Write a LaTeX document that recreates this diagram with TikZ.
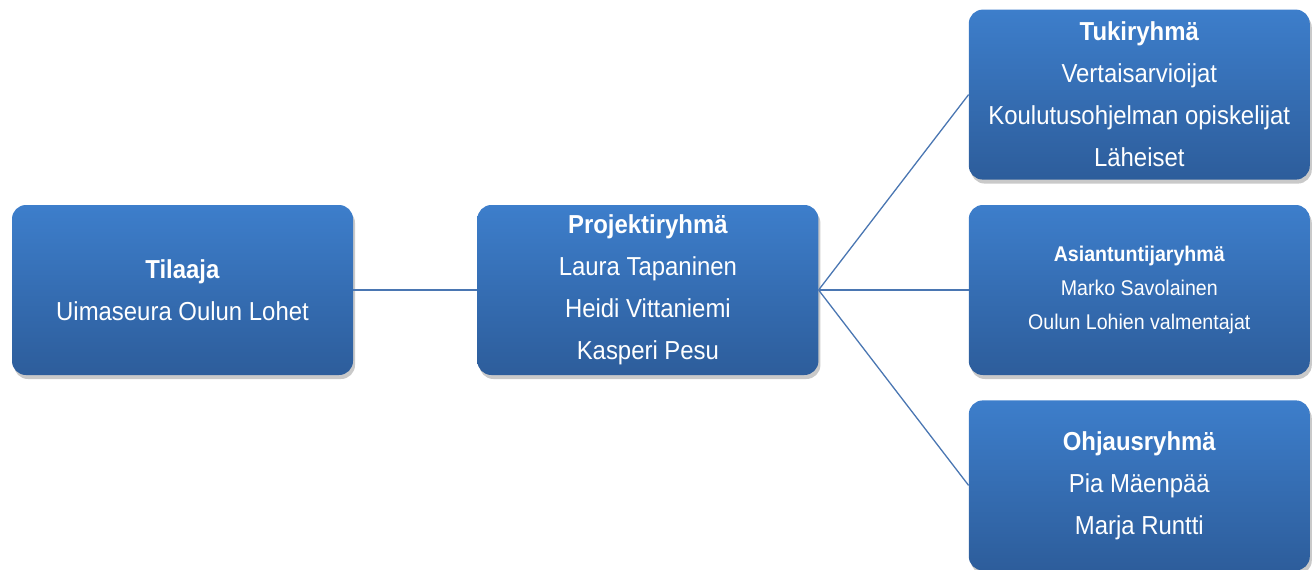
\documentclass[tikz,border=0pt]{standalone}
\usepackage{fontspec}
\setmainfont[FakeStretch=0.92]{Liberation Sans}
\usepackage{tikz}
\usetikzlibrary{positioning,shadows}
\definecolor{grptop}{RGB}{61,126,203}
\definecolor{grpbot}{RGB}{45,93,155}
\definecolor{grpline}{RGB}{74,118,178}
\tikzset{
	org chart/.style={
		x=1pt, y=1pt,
		node distance=25pt and 124pt,
		link/.style={draw=grpline, line width=1.3pt}
		},
	grp/.style={
		rounded corners=14pt, inner sep=0pt,
		minimum width=341pt, minimum height=170pt,
		top color=grptop, bottom color=grpbot,
		text=white, align=center,
		font=\fontsize{26}{42}\selectfont,
		drop shadow={shadow xshift=2pt, shadow yshift=-4pt, opacity=0.3, fill=black!70}},
	% grp wide/.style={grp, minimum width=380pt},
	grp small/.style={grp, font=\fontsize{21.3}{34}\selectfont}
}

\begin{document}
\begin{tikzpicture}[org chart]
	\useasboundingbox (0,0) rectangle (1315,-570);
	\node[grp] (T) at (182.5,-290) {\textbf{Tilaaja}\\Uimaseura Oulun Lohet};
	\node[grp, right=124pt of T] (P) {\textbf{Projektiryhmä}\\Laura Tapaninen\\Heidi Vittaniemi\\Kasperi Pesu};
	\node[grp small, right=150pt of P] (A) {\textbf{Asiantuntijaryhmä}\\Marko Savolainen\\Oulun Lohien valmentajat};
	\node[grp, above=25pt of A] (U) {\textbf{Tukiryhmä}\\Vertaisarvioijat\\Koulutusohjelman opiskelijat\\Läheiset};
	\node[grp, below=25pt of A] (O) {\textbf{Ohjausryhmä}\\Pia Mäenpää\\Marja Runtti};
	\draw[link] (T) -- (P);
	\draw[link] (P.east) -- (U.west);
	\draw[link] (P.east) -- (A.west);
	\draw[link] (P.east) -- (O.west);
\end{tikzpicture}
\end{document}
